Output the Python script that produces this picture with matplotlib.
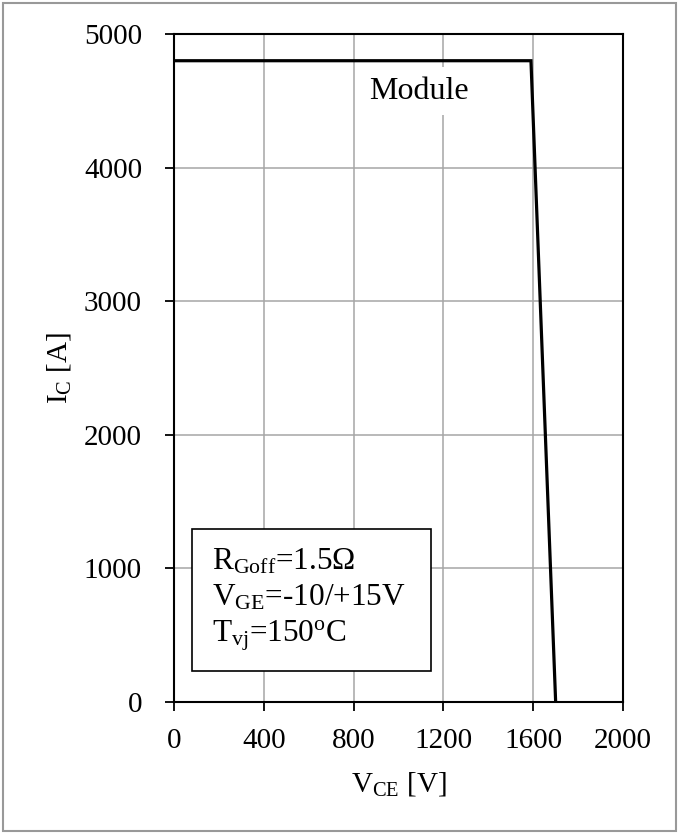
import matplotlib
matplotlib.use("Agg")
import matplotlib.pyplot as plt
from matplotlib.patches import Rectangle

plt.rcParams['font.family'] = ['Liberation Serif', 'DejaVu Serif']
plt.rcParams['mathtext.fontset'] = 'custom'
plt.rcParams['mathtext.rm'] = 'Liberation Serif'
plt.rcParams['mathtext.it'] = 'Liberation Serif:italic'
plt.rcParams['mathtext.bf'] = 'Liberation Serif:bold'

# data
vce = [0, 1590, 1700]
ic = [4800, 4800, 0]
xticks = [0, 400, 800, 1200, 1600, 2000]
yticks = [0, 1000, 2000, 3000, 4000, 5000]
legend_lines = [r'$\mathrm{R_{Goff}}$=1.5Ω',
                r'$\mathrm{V_{GE}}$=-10/+15V',
                r'$\mathrm{T_{vj}}$=150$\mathrm{^{o}}$C']

fig = plt.figure(figsize=(6.79, 8.34), dpi=100)
ax = fig.add_axes([174/679, 1-702/834, (623-174)/679, (702-34)/834])

ax.plot(vce, ic, color='black', lw=2.3, zorder=3, solid_joinstyle='miter')
ax.set_xlim(0, 2000)
ax.set_ylim(0, 5000)
ax.set_xticks(xticks)
ax.set_yticks(yticks)
ax.grid(True, color='#a6a6a6', lw=1.1)
ax.set_axisbelow(True)
for s in ax.spines.values():
    s.set_linewidth(1.5)
ax.tick_params(direction='out', length=6.5, width=1.3, labelsize=21)
ax.tick_params(axis='x', pad=12)
ax.tick_params(axis='y', pad=16.5)

ax.set_xlabel(r'$\mathrm{V_{CE}}$ [V]', fontsize=21, labelpad=12)
ax.set_ylabel(r'$\mathrm{I_{C}}$ [A]', fontsize=21, labelpad=8)

ax.text(1090, 4573, 'Module', fontsize=23, ha='center', va='center',
        bbox=dict(facecolor='white', edgecolor='none', pad=7), zorder=2)

# legend box
ax.add_patch(Rectangle((0.040, 0.0464), 0.532, 0.2126, transform=ax.transAxes,
                       facecolor='white', edgecolor='black', lw=1.2, zorder=4))
for txt, yb in zip(legend_lines, [0.199, 0.145, 0.0913]):
    ax.text(0.0846, yb, txt, transform=ax.transAxes, fontsize=22.5,
            ha='left', va='baseline', zorder=5)

fig.patches.append(Rectangle((3/679, 3/834), 673/679, 828/834, transform=fig.transFigure,
                             fill=False, edgecolor='#999999', lw=1.5))

fig.savefig('out.png', dpi=100)
